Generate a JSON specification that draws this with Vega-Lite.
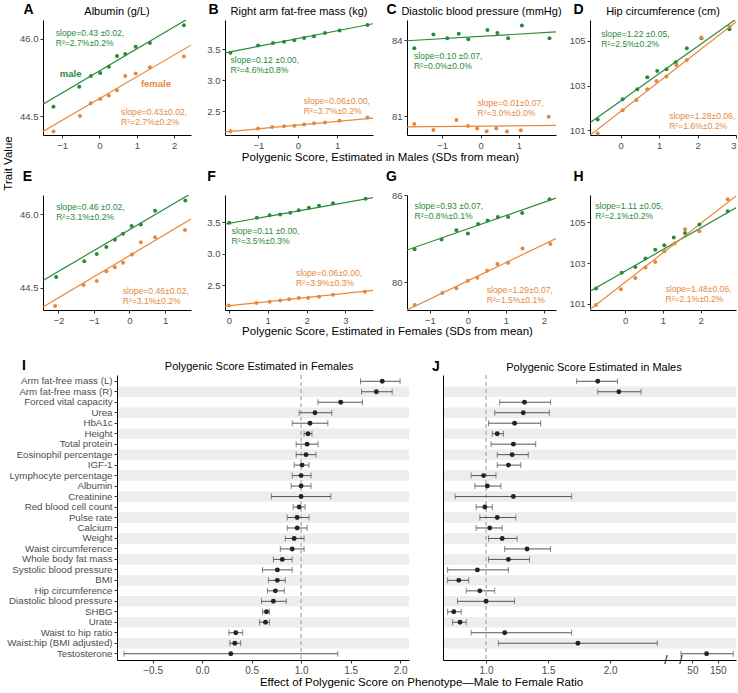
{
"$schema":"https://vega.github.io/schema/vega-lite/v6.json",
"padding":{"left":1,"top":2,"right":0,"bottom":0},
"background":"white",
"config":{"font":"Liberation Sans","view":{"stroke":null},
"axis":{"grid":false,"domainColor":"#000","domainWidth":1,"tickColor":"#333","tickSize":3,"labelColor":"#4d4d4d","labelFontSize":9.5,"labelPadding":2,"titleFontWeight":"normal","titleColor":"#000"},
"title":{"fontSize":11,"fontWeight":"normal","offset":-15,"color":"#000","frame":"group"}},
"datasets":{
"scatter":[
{"p":"A","sex":"male","x":-1.23,"y":44.68},{"p":"A","sex":"male","x":-0.54,"y":45.07},{"p":"A","sex":"male","x":-0.23,"y":45.28},{"p":"A","sex":"male","x":0.02,"y":45.34},{"p":"A","sex":"male","x":0.25,"y":45.46},{"p":"A","sex":"male","x":0.47,"y":45.67},{"p":"A","sex":"male","x":0.69,"y":45.71},{"p":"A","sex":"male","x":0.97,"y":45.85},{"p":"A","sex":"male","x":1.35,"y":45.92},{"p":"A","sex":"male","x":2.26,"y":46.27},
{"p":"A","sex":"female","x":-1.23,"y":44.2},{"p":"A","sex":"female","x":-0.52,"y":44.5},{"p":"A","sex":"female","x":-0.23,"y":44.75},{"p":"A","sex":"female","x":0.02,"y":44.83},{"p":"A","sex":"female","x":0.25,"y":44.9},{"p":"A","sex":"female","x":0.47,"y":45.0},{"p":"A","sex":"female","x":0.69,"y":45.28},{"p":"A","sex":"female","x":0.97,"y":45.33},{"p":"A","sex":"female","x":1.35,"y":45.45},{"p":"A","sex":"female","x":2.26,"y":45.66},
{"p":"B","sex":"male","x":-1.71,"y":3.445},{"p":"B","sex":"male","x":-1.01,"y":3.56},{"p":"B","sex":"male","x":-0.63,"y":3.6},{"p":"B","sex":"male","x":-0.35,"y":3.62},{"p":"B","sex":"male","x":-0.09,"y":3.645},{"p":"B","sex":"male","x":0.16,"y":3.68},{"p":"B","sex":"male","x":0.41,"y":3.71},{"p":"B","sex":"male","x":0.69,"y":3.76},{"p":"B","sex":"male","x":1.06,"y":3.8},{"p":"B","sex":"male","x":1.77,"y":3.89},
{"p":"B","sex":"female","x":-1.71,"y":2.18},{"p":"B","sex":"female","x":-1.01,"y":2.225},{"p":"B","sex":"female","x":-0.65,"y":2.25},{"p":"B","sex":"female","x":-0.35,"y":2.26},{"p":"B","sex":"female","x":-0.09,"y":2.27},{"p":"B","sex":"female","x":0.16,"y":2.29},{"p":"B","sex":"female","x":0.41,"y":2.31},{"p":"B","sex":"female","x":0.69,"y":2.32},{"p":"B","sex":"female","x":1.06,"y":2.35},{"p":"B","sex":"female","x":1.77,"y":2.4},
{"p":"C","sex":"male","x":-1.73,"y":83.67},{"p":"C","sex":"male","x":-1.23,"y":84.22},{"p":"C","sex":"male","x":-0.87,"y":84.07},{"p":"C","sex":"male","x":-0.57,"y":84.25},{"p":"C","sex":"male","x":-0.32,"y":84.03},{"p":"C","sex":"male","x":0.18,"y":84.4},{"p":"C","sex":"male","x":0.44,"y":84.28},{"p":"C","sex":"male","x":0.72,"y":84.07},{"p":"C","sex":"male","x":1.08,"y":84.57},{"p":"C","sex":"male","x":1.8,"y":84.07},
{"p":"C","sex":"female","x":-1.73,"y":80.68},{"p":"C","sex":"female","x":-1.23,"y":80.45},{"p":"C","sex":"female","x":-0.63,"y":80.84},{"p":"C","sex":"female","x":-0.33,"y":80.61},{"p":"C","sex":"female","x":-0.09,"y":80.51},{"p":"C","sex":"female","x":0.16,"y":80.4},{"p":"C","sex":"female","x":0.41,"y":80.51},{"p":"C","sex":"female","x":0.69,"y":80.39},{"p":"C","sex":"female","x":1.05,"y":80.44},{"p":"C","sex":"female","x":1.78,"y":80.97},
{"p":"D","sex":"male","x":-0.6,"y":101.48},{"p":"D","sex":"male","x":0.05,"y":102.38},{"p":"D","sex":"male","x":0.43,"y":102.83},{"p":"D","sex":"male","x":0.69,"y":103.37},{"p":"D","sex":"male","x":0.95,"y":103.65},{"p":"D","sex":"male","x":1.19,"y":103.73},{"p":"D","sex":"male","x":1.43,"y":104.04},{"p":"D","sex":"male","x":1.72,"y":104.67},{"p":"D","sex":"male","x":2.1,"y":105.12},{"p":"D","sex":"male","x":2.83,"y":105.53},
{"p":"D","sex":"female","x":-0.6,"y":100.85},{"p":"D","sex":"female","x":0.05,"y":101.89},{"p":"D","sex":"female","x":0.41,"y":102.35},{"p":"D","sex":"female","x":0.69,"y":102.83},{"p":"D","sex":"female","x":0.93,"y":103.2},{"p":"D","sex":"female","x":1.19,"y":103.4},{"p":"D","sex":"female","x":1.45,"y":103.92},{"p":"D","sex":"female","x":1.72,"y":104.15},{"p":"D","sex":"female","x":2.1,"y":105.15},{"p":"D","sex":"female","x":2.83,"y":105.64},
{"p":"E","sex":"male","x":-2.06,"y":44.72},{"p":"E","sex":"male","x":-1.27,"y":45.04},{"p":"E","sex":"male","x":-0.92,"y":45.19},{"p":"E","sex":"male","x":-0.65,"y":45.33},{"p":"E","sex":"male","x":-0.41,"y":45.48},{"p":"E","sex":"male","x":-0.18,"y":45.6},{"p":"E","sex":"male","x":0.06,"y":45.76},{"p":"E","sex":"male","x":0.32,"y":45.79},{"p":"E","sex":"male","x":0.72,"y":46.07},{"p":"E","sex":"male","x":1.57,"y":46.28},
{"p":"E","sex":"female","x":-2.09,"y":44.13},{"p":"E","sex":"female","x":-1.29,"y":44.56},{"p":"E","sex":"female","x":-0.92,"y":44.64},{"p":"E","sex":"female","x":-0.65,"y":44.84},{"p":"E","sex":"female","x":-0.41,"y":44.92},{"p":"E","sex":"female","x":-0.18,"y":45.01},{"p":"E","sex":"female","x":0.07,"y":45.18},{"p":"E","sex":"female","x":0.32,"y":45.43},{"p":"E","sex":"female","x":0.72,"y":45.53},{"p":"E","sex":"female","x":1.56,"y":45.68},
{"p":"F","sex":"male","x":0.01,"y":3.49},{"p":"F","sex":"male","x":0.72,"y":3.57},{"p":"F","sex":"male","x":1.05,"y":3.61},{"p":"F","sex":"male","x":1.32,"y":3.62},{"p":"F","sex":"male","x":1.58,"y":3.65},{"p":"F","sex":"male","x":1.8,"y":3.69},{"p":"F","sex":"male","x":2.06,"y":3.73},{"p":"F","sex":"male","x":2.32,"y":3.76},{"p":"F","sex":"male","x":2.68,"y":3.8},{"p":"F","sex":"male","x":3.52,"y":3.87},
{"p":"F","sex":"female","x":0.0,"y":2.18},{"p":"F","sex":"female","x":0.71,"y":2.22},{"p":"F","sex":"female","x":1.05,"y":2.24},{"p":"F","sex":"female","x":1.32,"y":2.26},{"p":"F","sex":"female","x":1.55,"y":2.28},{"p":"F","sex":"female","x":1.8,"y":2.3},{"p":"F","sex":"female","x":2.04,"y":2.3},{"p":"F","sex":"female","x":2.32,"y":2.32},{"p":"F","sex":"female","x":2.68,"y":2.35},{"p":"F","sex":"female","x":3.5,"y":2.4},
{"p":"G","sex":"male","x":-1.4,"y":82.29},{"p":"G","sex":"male","x":-0.69,"y":82.95},{"p":"G","sex":"male","x":-0.3,"y":83.6},{"p":"G","sex":"male","x":0.0,"y":83.36},{"p":"G","sex":"male","x":0.27,"y":84.03},{"p":"G","sex":"male","x":0.52,"y":84.26},{"p":"G","sex":"male","x":0.79,"y":84.51},{"p":"G","sex":"male","x":1.06,"y":84.51},{"p":"G","sex":"male","x":1.43,"y":84.78},{"p":"G","sex":"male","x":2.15,"y":85.73},
{"p":"G","sex":"female","x":-1.4,"y":78.45},{"p":"G","sex":"female","x":-0.67,"y":79.27},{"p":"G","sex":"female","x":-0.3,"y":79.59},{"p":"G","sex":"female","x":0.0,"y":80.12},{"p":"G","sex":"female","x":0.25,"y":80.32},{"p":"G","sex":"female","x":0.51,"y":80.8},{"p":"G","sex":"female","x":0.78,"y":81.26},{"p":"G","sex":"female","x":1.06,"y":81.35},{"p":"G","sex":"female","x":1.44,"y":82.34},{"p":"G","sex":"female","x":2.17,"y":82.64},
{"p":"H","sex":"male","x":-0.77,"y":101.75},{"p":"H","sex":"male","x":-0.09,"y":102.53},{"p":"H","sex":"male","x":0.27,"y":102.81},{"p":"H","sex":"male","x":0.54,"y":103.22},{"p":"H","sex":"male","x":0.8,"y":103.66},{"p":"H","sex":"male","x":1.04,"y":103.88},{"p":"H","sex":"male","x":1.29,"y":104.25},{"p":"H","sex":"male","x":1.59,"y":104.48},{"p":"H","sex":"male","x":1.97,"y":104.89},{"p":"H","sex":"male","x":2.72,"y":105.54},
{"p":"H","sex":"female","x":-0.77,"y":100.94},{"p":"H","sex":"female","x":-0.11,"y":101.72},{"p":"H","sex":"female","x":0.27,"y":102.27},{"p":"H","sex":"female","x":0.54,"y":102.78},{"p":"H","sex":"female","x":0.8,"y":103.06},{"p":"H","sex":"female","x":1.04,"y":103.58},{"p":"H","sex":"female","x":1.31,"y":103.96},{"p":"H","sex":"female","x":1.59,"y":104.66},{"p":"H","sex":"female","x":1.97,"y":104.56},{"p":"H","sex":"female","x":2.72,"y":106.13}
],
"fits":[
{"p":"A","sex":"male","x":-1.51,"y":44.73,"x2":2.45,"y2":46.43},{"p":"A","sex":"female","x":-1.51,"y":44.2,"x2":2.45,"y2":45.88},
{"p":"B","sex":"male","x":-1.85,"y":3.44,"x2":1.91,"y2":3.91},{"p":"B","sex":"female","x":-1.85,"y":2.17,"x2":1.91,"y2":2.39},
{"p":"C","sex":"male","x":-1.92,"y":83.97,"x2":1.97,"y2":84.32},{"p":"C","sex":"female","x":-1.92,"y":80.57,"x2":1.97,"y2":80.63},
{"p":"D","sex":"male","x":-0.8,"y":101.33,"x2":3.0,"y2":105.98},{"p":"D","sex":"female","x":-0.8,"y":100.77,"x2":3.0,"y2":105.85},
{"p":"E","sex":"male","x":-2.43,"y":44.65,"x2":1.73,"y2":46.42},{"p":"E","sex":"female","x":-2.43,"y":44.11,"x2":1.73,"y2":45.9},
{"p":"F","sex":"male","x":-0.1,"y":3.47,"x2":3.71,"y2":3.89},{"p":"F","sex":"female","x":-0.1,"y":2.17,"x2":3.71,"y2":2.42},
{"p":"G","sex":"male","x":-1.6,"y":82.23,"x2":2.32,"y2":85.81},{"p":"G","sex":"female","x":-1.6,"y":78.1,"x2":2.32,"y2":83.02},
{"p":"H","sex":"male","x":-0.93,"y":101.62,"x2":2.94,"y2":105.71},{"p":"H","sex":"female","x":-0.93,"y":100.72,"x2":2.94,"y2":106.29}
],
"ratios":[
{"trait":"Arm fat-free mass (L)","pgs":"female","ratio":1.82,"lo":1.6,"hi":2.0},{"trait":"Arm fat-free mass (L)","pgs":"male","ratio":1.9,"lo":1.73,"hi":2.06},
{"trait":"Arm fat-free mass (R)","pgs":"female","ratio":1.76,"lo":1.61,"hi":1.92},{"trait":"Arm fat-free mass (R)","pgs":"male","ratio":2.07,"lo":1.9,"hi":2.25},
{"trait":"Forced vital capacity","pgs":"female","ratio":1.4,"lo":1.17,"hi":1.62},{"trait":"Forced vital capacity","pgs":"male","ratio":1.31,"lo":1.11,"hi":1.52},
{"trait":"Urea","pgs":"female","ratio":1.14,"lo":0.98,"hi":1.31},{"trait":"Urea","pgs":"male","ratio":1.3,"lo":1.07,"hi":1.51},
{"trait":"HbA1c","pgs":"female","ratio":1.09,"lo":0.91,"hi":1.27},{"trait":"HbA1c","pgs":"male","ratio":1.23,"lo":1.02,"hi":1.44},
{"trait":"Height","pgs":"female","ratio":1.07,"lo":1.03,"hi":1.11},{"trait":"Height","pgs":"male","ratio":1.09,"lo":1.05,"hi":1.14},
{"trait":"Total protein","pgs":"female","ratio":1.06,"lo":0.95,"hi":1.17},{"trait":"Total protein","pgs":"male","ratio":1.22,"lo":1.04,"hi":1.4},
{"trait":"Eosinophil percentage","pgs":"female","ratio":1.05,"lo":0.95,"hi":1.15},{"trait":"Eosinophil percentage","pgs":"male","ratio":1.21,"lo":1.09,"hi":1.34},
{"trait":"IGF-1","pgs":"female","ratio":1.01,"lo":0.93,"hi":1.08},{"trait":"IGF-1","pgs":"male","ratio":1.18,"lo":1.09,"hi":1.28},
{"trait":"Lymphocyte percentage","pgs":"female","ratio":1.0,"lo":0.91,"hi":1.1},{"trait":"Lymphocyte percentage","pgs":"male","ratio":0.98,"lo":0.88,"hi":1.08},
{"trait":"Albumin","pgs":"female","ratio":1.0,"lo":0.9,"hi":1.1},{"trait":"Albumin","pgs":"male","ratio":1.01,"lo":0.91,"hi":1.12},
{"trait":"Creatinine","pgs":"female","ratio":1.0,"lo":0.7,"hi":1.3},{"trait":"Creatinine","pgs":"male","ratio":1.22,"lo":0.75,"hi":1.69},
{"trait":"Red blood cell count","pgs":"female","ratio":0.98,"lo":0.92,"hi":1.04},{"trait":"Red blood cell count","pgs":"male","ratio":0.99,"lo":0.92,"hi":1.05},
{"trait":"Pulse rate","pgs":"female","ratio":0.96,"lo":0.86,"hi":1.08},{"trait":"Pulse rate","pgs":"male","ratio":1.09,"lo":0.95,"hi":1.24},
{"trait":"Calcium","pgs":"female","ratio":0.96,"lo":0.86,"hi":1.06},{"trait":"Calcium","pgs":"male","ratio":1.03,"lo":0.92,"hi":1.13},
{"trait":"Weight","pgs":"female","ratio":0.93,"lo":0.84,"hi":1.03},{"trait":"Weight","pgs":"male","ratio":1.13,"lo":1.02,"hi":1.25},
{"trait":"Waist circumference","pgs":"female","ratio":0.91,"lo":0.79,"hi":1.03},{"trait":"Waist circumference","pgs":"male","ratio":1.33,"lo":1.15,"hi":1.52},
{"trait":"Whole body fat mass","pgs":"female","ratio":0.81,"lo":0.72,"hi":0.91},{"trait":"Whole body fat mass","pgs":"male","ratio":1.18,"lo":1.02,"hi":1.35},
{"trait":"Systolic blood pressure","pgs":"female","ratio":0.76,"lo":0.61,"hi":0.91},{"trait":"Systolic blood pressure","pgs":"male","ratio":0.93,"lo":0.69,"hi":1.18},
{"trait":"BMI","pgs":"female","ratio":0.76,"lo":0.67,"hi":0.84},{"trait":"BMI","pgs":"male","ratio":0.78,"lo":0.69,"hi":0.86},
{"trait":"Hip circumference","pgs":"female","ratio":0.74,"lo":0.66,"hi":0.83},{"trait":"Hip circumference","pgs":"male","ratio":0.95,"lo":0.84,"hi":1.07},
{"trait":"Diastolic blood pressure","pgs":"female","ratio":0.72,"lo":0.6,"hi":0.85},{"trait":"Diastolic blood pressure","pgs":"male","ratio":1.0,"lo":0.77,"hi":1.23},
{"trait":"SHBG","pgs":"female","ratio":0.65,"lo":0.61,"hi":0.68},{"trait":"SHBG","pgs":"male","ratio":0.74,"lo":0.69,"hi":0.8},
{"trait":"Urate","pgs":"female","ratio":0.64,"lo":0.58,"hi":0.68},{"trait":"Urate","pgs":"male","ratio":0.79,"lo":0.73,"hi":0.84},
{"trait":"Waist to hip ratio","pgs":"female","ratio":0.34,"lo":0.27,"hi":0.41},{"trait":"Waist to hip ratio","pgs":"male","ratio":1.15,"lo":0.88,"hi":1.69},
{"trait":"Waist:hip (BMI adjusted)","pgs":"female","ratio":0.33,"lo":0.28,"hi":0.39},{"trait":"Waist:hip (BMI adjusted)","pgs":"male","ratio":1.74,"lo":1.1,"hi":2.38},
{"trait":"Testosterone","pgs":"female","ratio":0.29,"lo":-0.79,"hi":1.37},{"trait":"Testosterone","pgs":"male","ratio":106,"lo":5,"hi":211}
],
"bands":[{"trait":"Arm fat-free mass (R)"},{"trait":"Urea"},{"trait":"Height"},{"trait":"Eosinophil percentage"},{"trait":"Lymphocyte percentage"},{"trait":"Creatinine"},{"trait":"Pulse rate"},{"trait":"Weight"},{"trait":"Whole body fat mass"},{"trait":"BMI"},{"trait":"Diastolic blood pressure"},{"trait":"Urate"},{"trait":"Waist:hip (BMI adjusted)"}]
},
"spacing":21,
"vconcat":[
{"columns":4,"spacing":{"row":60,"column":34},"bounds":"flush","align":"each",
"concat":[
{"width":148,"height":115,"title":{"text":"Albumin (g/L)"},
"layer":[
{"data":{"name":"fits"},"transform":[{"filter":"datum.p==='A'"}],"mark":{"type":"rule","clip":true,"strokeWidth":1.2},"encoding":{
"x":{"field":"x","type":"quantitative","scale":{"domain":[-1.51,2.45],"nice":false,"zero":false},"axis":{"values":[-1,0,1,2],"format":"d","title":"Trait Value","titleX":-35,"titleY":28,"titleAngle":270,"titleAlign":"center","titleBaseline":"middle","titleFontSize":11.5}},
"y":{"field":"y","type":"quantitative","scale":{"domain":[44.13,46.37],"nice":false,"zero":false},"axis":{"values":[44.5,45,45.5,46],"format":".1f","title":"A","titleX":-15,"titleY":-11,"titleAngle":0,"titleAlign":"center","titleBaseline":"middle","titleFontSize":14,"titleFontWeight":"bold"}},
"x2":{"field":"x2"},"y2":{"field":"y2"},"color":{"field":"sex","type":"nominal","scale":{"domain":["male","female"],"range":["#2a8a3a","#e6883b"]},"legend":null}}},
{"data":{"name":"scatter"},"transform":[{"filter":"datum.p==='A'"}],"mark":{"type":"circle","size":16,"opacity":1},"encoding":{
"x":{"field":"x","type":"quantitative","axis":{"values":[-1,0,1,2],"format":"d","title":"Trait Value","titleX":-35,"titleY":28,"titleAngle":270,"titleAlign":"center","titleBaseline":"middle","titleFontSize":11.5}},
"y":{"field":"y","type":"quantitative","axis":{"values":[44.5,45,45.5,46],"format":".1f","title":"A","titleX":-15,"titleY":-11,"titleAngle":0,"titleAlign":"center","titleBaseline":"middle","titleFontSize":14,"titleFontWeight":"bold"}},
"color":{"field":"sex","type":"nominal","scale":{"domain":["male","female"],"range":["#2a8a3a","#e6883b"]},"legend":null}}},
{"data":{"values":[{}]},"mark":{"type":"text","text":["slope=0.43 ±0.02,","R²=2.7%±0.2%"],"align":"left","baseline":"top","fontSize":8.6,"lineHeight":10,"color":"#2a8a3a"},"encoding":{"x":{"datum":-1.17},"y":{"datum":46.2}}},
{"data":{"values":[{}]},"mark":{"type":"text","text":["slope=0.43±0.02,","R²=2.7%±0.2%"],"align":"left","baseline":"top","fontSize":8.6,"lineHeight":10,"color":"#e6883b"},"encoding":{"x":{"datum":0.58},"y":{"datum":44.65}}},
{"data":{"values":[{}]},"mark":{"type":"text","text":"male","align":"left","baseline":"middle","fontSize":9.5,"fontWeight":"bold","color":"#2a8a3a"},"encoding":{"x":{"datum":-1.06},"y":{"datum":45.32}}},
{"data":{"values":[{}]},"mark":{"type":"text","text":"female","align":"left","baseline":"middle","fontSize":9.5,"fontWeight":"bold","color":"#e6883b"},"encoding":{"x":{"datum":1.11},"y":{"datum":45.12}}}
]},
{"width":148,"height":115,"title":{"text":"Right arm fat-free mass (kg)"},
"layer":[
{"data":{"name":"fits"},"transform":[{"filter":"datum.p==='B'"}],"mark":{"type":"rule","clip":true,"strokeWidth":1.2},"encoding":{
"x":{"field":"x","type":"quantitative","scale":{"domain":[-1.85,1.91],"nice":false,"zero":false},"axis":{"values":[-1,0,1],"format":"d","title":"Polygenic Score, Estimated in Males (SDs from mean)","titleX":155,"titleY":22,"titleAlign":"center","titleBaseline":"middle","titleFontSize":11.5}},
"y":{"field":"y","type":"quantitative","scale":{"domain":[2.12,3.97],"nice":false,"zero":false},"axis":{"values":[2.5,3,3.5],"format":".1f","title":"B","titleX":-12,"titleY":-11,"titleAngle":0,"titleAlign":"center","titleBaseline":"middle","titleFontSize":14,"titleFontWeight":"bold"}},
"x2":{"field":"x2"},"y2":{"field":"y2"},"color":{"field":"sex","type":"nominal","scale":{"domain":["male","female"],"range":["#2a8a3a","#e6883b"]},"legend":null}}},
{"data":{"name":"scatter"},"transform":[{"filter":"datum.p==='B'"}],"mark":{"type":"circle","size":16,"opacity":1},"encoding":{
"x":{"field":"x","type":"quantitative","axis":{"values":[-1,0,1],"format":"d","title":"Polygenic Score, Estimated in Males (SDs from mean)","titleX":155,"titleY":22,"titleAlign":"center","titleBaseline":"middle","titleFontSize":11.5}},
"y":{"field":"y","type":"quantitative","axis":{"values":[2.5,3,3.5],"format":".1f","title":"B","titleX":-12,"titleY":-11,"titleAngle":0,"titleAlign":"center","titleBaseline":"middle","titleFontSize":14,"titleFontWeight":"bold"}},
"color":{"field":"sex","type":"nominal","scale":{"domain":["male","female"],"range":["#2a8a3a","#e6883b"]},"legend":null}}},
{"data":{"values":[{}]},"mark":{"type":"text","text":["slope=0.12 ±0.00,","R²=4.6%±0.8%"],"align":"left","baseline":"top","fontSize":8.6,"lineHeight":10,"color":"#2a8a3a"},"encoding":{"x":{"datum":-1.71},"y":{"datum":3.384}}},
{"data":{"values":[{}]},"mark":{"type":"text","text":["slope=0.06±0.00,","R²=3.7%±0.2%"],"align":"left","baseline":"top","fontSize":8.6,"lineHeight":10,"color":"#e6883b"},"encoding":{"x":{"datum":0.15},"y":{"datum":2.73}}}
]},
{"width":149,"height":115,"title":{"text":"Diastolic blood pressure (mmHg)"},
"layer":[
{"data":{"name":"fits"},"transform":[{"filter":"datum.p==='C'"}],"mark":{"type":"rule","clip":true,"strokeWidth":1.2},"encoding":{
"x":{"field":"x","type":"quantitative","scale":{"domain":[-1.92,1.97],"nice":false,"zero":false},"axis":{"values":[-1,0,1],"format":"d","title":null}},
"y":{"field":"y","type":"quantitative","scale":{"domain":[80.25,84.79],"nice":false,"zero":false},"axis":{"values":[81,82,83,84],"format":"d","title":"C","titleX":-16,"titleY":-11,"titleAngle":0,"titleAlign":"center","titleBaseline":"middle","titleFontSize":14,"titleFontWeight":"bold"}},
"x2":{"field":"x2"},"y2":{"field":"y2"},"color":{"field":"sex","type":"nominal","scale":{"domain":["male","female"],"range":["#2a8a3a","#e6883b"]},"legend":null}}},
{"data":{"name":"scatter"},"transform":[{"filter":"datum.p==='C'"}],"mark":{"type":"circle","size":16,"opacity":1},"encoding":{
"x":{"field":"x","type":"quantitative","axis":{"values":[-1,0,1],"format":"d","title":null}},
"y":{"field":"y","type":"quantitative","axis":{"values":[81,82,83,84],"format":"d","title":"C","titleX":-16,"titleY":-11,"titleAngle":0,"titleAlign":"center","titleBaseline":"middle","titleFontSize":14,"titleFontWeight":"bold"}},
"color":{"field":"sex","type":"nominal","scale":{"domain":["male","female"],"range":["#2a8a3a","#e6883b"]},"legend":null}}},
{"data":{"values":[{}]},"mark":{"type":"text","text":["slope=0.10 ±0.07,","R²=0.0%±0.0%"],"align":"left","baseline":"top","fontSize":8.6,"lineHeight":10,"color":"#2a8a3a"},"encoding":{"x":{"datum":-1.74},"y":{"datum":83.53}}},
{"data":{"values":[{}]},"mark":{"type":"text","text":["slope=0.01±0.07,","R²=3.0%±0.0%"],"align":"left","baseline":"top","fontSize":8.6,"lineHeight":10,"color":"#e6883b"},"encoding":{"x":{"datum":-0.08},"y":{"datum":81.69}}}
]},
{"width":146,"height":115,"title":{"text":"Hip circumference (cm)"},
"layer":[
{"data":{"name":"fits"},"transform":[{"filter":"datum.p==='D'"}],"mark":{"type":"rule","clip":true,"strokeWidth":1.2},"encoding":{
"x":{"field":"x","type":"quantitative","scale":{"domain":[-0.8,3.0],"nice":false,"zero":false},"axis":{"values":[0,1,2,3],"format":"d","title":null}},
"y":{"field":"y","type":"quantitative","scale":{"domain":[100.78,105.94],"nice":false,"zero":false},"axis":{"values":[101,102,103,104,105],"format":"d","title":"D","titleX":-12,"titleY":-11,"titleAngle":0,"titleAlign":"center","titleBaseline":"middle","titleFontSize":14,"titleFontWeight":"bold"}},
"x2":{"field":"x2"},"y2":{"field":"y2"},"color":{"field":"sex","type":"nominal","scale":{"domain":["male","female"],"range":["#2a8a3a","#e6883b"]},"legend":null}}},
{"data":{"name":"scatter"},"transform":[{"filter":"datum.p==='D'"}],"mark":{"type":"circle","size":16,"opacity":1},"encoding":{
"x":{"field":"x","type":"quantitative","axis":{"values":[0,1,2,3],"format":"d","title":null}},
"y":{"field":"y","type":"quantitative","axis":{"values":[101,102,103,104,105],"format":"d","title":"D","titleX":-12,"titleY":-11,"titleAngle":0,"titleAlign":"center","titleBaseline":"middle","titleFontSize":14,"titleFontWeight":"bold"}},
"color":{"field":"sex","type":"nominal","scale":{"domain":["male","female"],"range":["#2a8a3a","#e6883b"]},"legend":null}}},
{"data":{"values":[{}]},"mark":{"type":"text","text":["slope=1.22 ±0.05,","R²=2.5%±0.2%"],"align":"left","baseline":"top","fontSize":8.6,"lineHeight":10,"color":"#2a8a3a"},"encoding":{"x":{"datum":-0.51},"y":{"datum":105.5}}},
{"data":{"values":[{}]},"mark":{"type":"text","text":["slope=1.28±0.06,","R²=1.6%±0.2%"],"align":"left","baseline":"top","fontSize":8.6,"lineHeight":10,"color":"#e6883b"},"encoding":{"x":{"datum":1.26},"y":{"datum":101.83}}}
]},
{"width":148,"height":115,
"layer":[
{"data":{"name":"fits"},"transform":[{"filter":"datum.p==='E'"}],"mark":{"type":"rule","clip":true,"strokeWidth":1.2},"encoding":{
"x":{"field":"x","type":"quantitative","scale":{"domain":[-2.43,1.73],"nice":false,"zero":false},"axis":{"values":[-2,-1,0,1],"format":"d","title":null}},
"y":{"field":"y","type":"quantitative","scale":{"domain":[44.05,46.39],"nice":false,"zero":false},"axis":{"values":[44.5,45,45.5,46],"format":".1f","title":"E","titleX":-16,"titleY":-19,"titleAngle":0,"titleAlign":"center","titleBaseline":"middle","titleFontSize":14,"titleFontWeight":"bold"}},
"x2":{"field":"x2"},"y2":{"field":"y2"},"color":{"field":"sex","type":"nominal","scale":{"domain":["male","female"],"range":["#2a8a3a","#e6883b"]},"legend":null}}},
{"data":{"name":"scatter"},"transform":[{"filter":"datum.p==='E'"}],"mark":{"type":"circle","size":16,"opacity":1},"encoding":{
"x":{"field":"x","type":"quantitative","axis":{"values":[-2,-1,0,1],"format":"d","title":null}},
"y":{"field":"y","type":"quantitative","axis":{"values":[44.5,45,45.5,46],"format":".1f","title":"E","titleX":-16,"titleY":-19,"titleAngle":0,"titleAlign":"center","titleBaseline":"middle","titleFontSize":14,"titleFontWeight":"bold"}},
"color":{"field":"sex","type":"nominal","scale":{"domain":["male","female"],"range":["#2a8a3a","#e6883b"]},"legend":null}}},
{"data":{"values":[{}]},"mark":{"type":"text","text":["slope=0.46 ±0.02,","R²=3.1%±0.2%"],"align":"left","baseline":"top","fontSize":8.6,"lineHeight":10,"color":"#2a8a3a"},"encoding":{"x":{"datum":-2.06},"y":{"datum":46.23}}},
{"data":{"values":[{}]},"mark":{"type":"text","text":["slope=0.46±0.02,","R²=3.1%±0.2%"],"align":"left","baseline":"top","fontSize":8.6,"lineHeight":10,"color":"#e6883b"},"encoding":{"x":{"datum":-0.19},"y":{"datum":44.52}}}
]},
{"width":148,"height":115,
"layer":[
{"data":{"name":"fits"},"transform":[{"filter":"datum.p==='F'"}],"mark":{"type":"rule","clip":true,"strokeWidth":1.2},"encoding":{
"x":{"field":"x","type":"quantitative","scale":{"domain":[-0.1,3.71],"nice":false,"zero":false},"axis":{"values":[0,1,2,3],"format":"d","title":"Polygenic Score, Estimated in Females (SDs from mean)","titleX":162,"titleY":21,"titleAlign":"center","titleBaseline":"middle","titleFontSize":11.5}},
"y":{"field":"y","type":"quantitative","scale":{"domain":[2.11,3.93],"nice":false,"zero":false},"axis":{"values":[2.5,3,3.5],"format":".1f","title":"F","titleX":-14,"titleY":-19,"titleAngle":0,"titleAlign":"center","titleBaseline":"middle","titleFontSize":14,"titleFontWeight":"bold"}},
"x2":{"field":"x2"},"y2":{"field":"y2"},"color":{"field":"sex","type":"nominal","scale":{"domain":["male","female"],"range":["#2a8a3a","#e6883b"]},"legend":null}}},
{"data":{"name":"scatter"},"transform":[{"filter":"datum.p==='F'"}],"mark":{"type":"circle","size":16,"opacity":1},"encoding":{
"x":{"field":"x","type":"quantitative","axis":{"values":[0,1,2,3],"format":"d","title":"Polygenic Score, Estimated in Females (SDs from mean)","titleX":162,"titleY":21,"titleAlign":"center","titleBaseline":"middle","titleFontSize":11.5}},
"y":{"field":"y","type":"quantitative","axis":{"values":[2.5,3,3.5],"format":".1f","title":"F","titleX":-14,"titleY":-19,"titleAngle":0,"titleAlign":"center","titleBaseline":"middle","titleFontSize":14,"titleFontWeight":"bold"}},
"color":{"field":"sex","type":"nominal","scale":{"domain":["male","female"],"range":["#2a8a3a","#e6883b"]},"legend":null}}},
{"data":{"values":[{}]},"mark":{"type":"text","text":["slope=0.11 ±0.00,","R²=3.5%±0.3%"],"align":"left","baseline":"top","fontSize":8.6,"lineHeight":10,"color":"#2a8a3a"},"encoding":{"x":{"datum":0.07},"y":{"datum":3.43}}},
{"data":{"values":[{}]},"mark":{"type":"text","text":["slope=0.06±0.00,","R²=3.9%±0.3%"],"align":"left","baseline":"top","fontSize":8.6,"lineHeight":10,"color":"#e6883b"},"encoding":{"x":{"datum":1.73},"y":{"datum":2.755}}}
]},
{"width":149,"height":115,
"layer":[
{"data":{"name":"fits"},"transform":[{"filter":"datum.p==='G'"}],"mark":{"type":"rule","clip":true,"strokeWidth":1.2},"encoding":{
"x":{"field":"x","type":"quantitative","scale":{"domain":[-1.6,2.32],"nice":false,"zero":false},"axis":{"values":[-1,0,1,2],"format":"d","title":null}},
"y":{"field":"y","type":"quantitative","scale":{"domain":[78.1,86.02],"nice":false,"zero":false},"axis":{"values":[80,82,84,86],"format":"d","title":"G","titleX":-16,"titleY":-19,"titleAngle":0,"titleAlign":"center","titleBaseline":"middle","titleFontSize":14,"titleFontWeight":"bold"}},
"x2":{"field":"x2"},"y2":{"field":"y2"},"color":{"field":"sex","type":"nominal","scale":{"domain":["male","female"],"range":["#2a8a3a","#e6883b"]},"legend":null}}},
{"data":{"name":"scatter"},"transform":[{"filter":"datum.p==='G'"}],"mark":{"type":"circle","size":16,"opacity":1},"encoding":{
"x":{"field":"x","type":"quantitative","axis":{"values":[-1,0,1,2],"format":"d","title":null}},
"y":{"field":"y","type":"quantitative","axis":{"values":[80,82,84,86],"format":"d","title":"G","titleX":-16,"titleY":-19,"titleAngle":0,"titleAlign":"center","titleBaseline":"middle","titleFontSize":14,"titleFontWeight":"bold"}},
"color":{"field":"sex","type":"nominal","scale":{"domain":["male","female"],"range":["#2a8a3a","#e6883b"]},"legend":null}}},
{"data":{"values":[{}]},"mark":{"type":"text","text":["slope=0.93 ±0.07,","R²=0.8%±0.1%"],"align":"left","baseline":"top","fontSize":8.6,"lineHeight":10,"color":"#2a8a3a"},"encoding":{"x":{"datum":-1.4},"y":{"datum":85.55}}},
{"data":{"values":[{}]},"mark":{"type":"text","text":["slope=1.29±0.07,","R²=1.5%±0.1%"],"align":"left","baseline":"top","fontSize":8.6,"lineHeight":10,"color":"#e6883b"},"encoding":{"x":{"datum":0.5},"y":{"datum":79.72}}}
]},
{"width":146,"height":115,
"layer":[
{"data":{"name":"fits"},"transform":[{"filter":"datum.p==='H'"}],"mark":{"type":"rule","clip":true,"strokeWidth":1.2},"encoding":{
"x":{"field":"x","type":"quantitative","scale":{"domain":[-0.93,2.94],"nice":false,"zero":false},"axis":{"values":[0,1,2],"format":"d","title":null}},
"y":{"field":"y","type":"quantitative","scale":{"domain":[100.7,106.34],"nice":false,"zero":false},"axis":{"values":[101,102,103,104,105,106],"format":"d","title":"H","titleX":-12,"titleY":-19,"titleAngle":0,"titleAlign":"center","titleBaseline":"middle","titleFontSize":14,"titleFontWeight":"bold"}},
"x2":{"field":"x2"},"y2":{"field":"y2"},"color":{"field":"sex","type":"nominal","scale":{"domain":["male","female"],"range":["#2a8a3a","#e6883b"]},"legend":null}}},
{"data":{"name":"scatter"},"transform":[{"filter":"datum.p==='H'"}],"mark":{"type":"circle","size":16,"opacity":1},"encoding":{
"x":{"field":"x","type":"quantitative","axis":{"values":[0,1,2],"format":"d","title":null}},
"y":{"field":"y","type":"quantitative","axis":{"values":[101,102,103,104,105,106],"format":"d","title":"H","titleX":-12,"titleY":-19,"titleAngle":0,"titleAlign":"center","titleBaseline":"middle","titleFontSize":14,"titleFontWeight":"bold"}},
"color":{"field":"sex","type":"nominal","scale":{"domain":["male","female"],"range":["#2a8a3a","#e6883b"]},"legend":null}}},
{"data":{"values":[{}]},"mark":{"type":"text","text":["slope=1.11 ±0.05,","R²=2.1%±0.2%"],"align":"left","baseline":"top","fontSize":8.6,"lineHeight":10,"color":"#2a8a3a"},"encoding":{"x":{"datum":-0.79},"y":{"datum":105.98}}},
{"data":{"values":[{}]},"mark":{"type":"text","text":["slope=1.48±0.06,","R²=2.1%±0.2%"],"align":"left","baseline":"top","fontSize":8.6,"lineHeight":10,"color":"#e6883b"},"encoding":{"x":{"datum":1.07},"y":{"datum":101.92}}}
]}
]},
{"hconcat":[
{"width":40,"height":285,"data":{"values":[]},"mark":"point"},
{"width":292,"height":285,"title":{"text":"Polygenic Score Estimated in Females","dx":-4,"offset":-13.5},
"layer":[
{"data":{"name":"bands"},"mark":{"type":"rect","color":"#ededed"},"encoding":{"x":{"datum":-0.86},"x2":{"datum":2.09},"y":{"field":"trait","type":"nominal"}}},
{"data":{"values":[{}]},"mark":{"type":"rule","color":"#a6a6a6","strokeDash":[4,3],"strokeWidth":1.2},"encoding":{"x":{"datum":1}}},
{"data":{"name":"ratios"},"transform":[{"filter":"datum.pgs==='female'"}],"mark":{"type":"rule","color":"#555","strokeWidth":1},"encoding":{"x":{"field":"lo","type":"quantitative"},"x2":{"field":"hi"},"y":{"field":"trait","type":"nominal"}}},
{"data":{"name":"ratios"},"transform":[{"filter":"datum.pgs==='female'"}],"mark":{"type":"tick","color":"#555","size":6,"thickness":1},"encoding":{"x":{"field":"lo","type":"quantitative"},"y":{"field":"trait","type":"nominal"}}},
{"data":{"name":"ratios"},"transform":[{"filter":"datum.pgs==='female'"}],"mark":{"type":"tick","color":"#555","size":6,"thickness":1},"encoding":{"x":{"field":"hi","type":"quantitative"},"y":{"field":"trait","type":"nominal"}}},
{"data":{"name":"ratios"},"transform":[{"filter":"datum.pgs==='female'"}],"mark":{"type":"circle","color":"#222","size":24,"opacity":1},"encoding":{
"x":{"field":"ratio","type":"quantitative","scale":{"domain":[-0.86,2.09],"nice":false,"zero":false},"axis":{"values":[-0.5,0,0.5,1,1.5,2],"format":".1f","labelFontSize":10,"title":"Effect of Polygenic Score on Phenotype—Male to Female Ratio","titleX":304,"titleY":22,"titleAlign":"center","titleBaseline":"middle","titleFontSize":11.5}},
"y":{"field":"trait","type":"nominal","scale":{"domain":["Arm fat-free mass (L)","Arm fat-free mass (R)","Forced vital capacity","Urea","HbA1c","Height","Total protein","Eosinophil percentage","IGF-1","Lymphocyte percentage","Albumin","Creatinine","Red blood cell count","Pulse rate","Calcium","Weight","Waist circumference","Whole body fat mass","Systolic blood pressure","BMI","Hip circumference","Diastolic blood pressure","SHBG","Urate","Waist to hip ratio","Waist:hip (BMI adjusted)","Testosterone"],"paddingInner":0,"paddingOuter":0.1},"axis":{"labelFontSize":9.7,"labelLimit":300,"title":"I","titleX":-93.5,"titleY":-10,"titleAngle":0,"titleAlign":"center","titleBaseline":"middle","titleFontSize":14,"titleFontWeight":"bold"}}}}
]},
{"width":293,"height":285,"title":{"text":"Polygenic Score Estimated in Males","dx":4.5,"offset":-13.5},
"layer":[
{"data":{"name":"bands"},"mark":{"type":"rect","color":"#ededed"},"encoding":{"x":{"datum":0.653},"x2":{"datum":222},"y":{"field":"trait","type":"nominal"}}},
{"data":{"values":[{}]},"mark":{"type":"rule","color":"#a6a6a6","strokeDash":[4,3],"strokeWidth":1.2},"encoding":{"x":{"datum":1}}},
{"data":{"name":"ratios"},"transform":[{"filter":"datum.pgs==='male'"}],"mark":{"type":"rule","color":"#555","strokeWidth":1},"encoding":{"x":{"field":"lo","type":"quantitative"},"x2":{"field":"hi"},"y":{"field":"trait","type":"nominal"}}},
{"data":{"name":"ratios"},"transform":[{"filter":"datum.pgs==='male'"}],"mark":{"type":"tick","color":"#555","size":6,"thickness":1},"encoding":{"x":{"field":"lo","type":"quantitative"},"y":{"field":"trait","type":"nominal"}}},
{"data":{"name":"ratios"},"transform":[{"filter":"datum.pgs==='male'"}],"mark":{"type":"tick","color":"#555","size":6,"thickness":1},"encoding":{"x":{"field":"hi","type":"quantitative"},"y":{"field":"trait","type":"nominal"}}},
{"data":{"name":"ratios"},"transform":[{"filter":"datum.pgs==='male'"}],"mark":{"type":"circle","color":"#222","size":24,"opacity":1},"encoding":{
"x":{"field":"ratio","type":"quantitative","scale":{"domain":[0.653,2.45,5,222],"range":[0,223,238,293],"nice":false,"zero":false},"axis":{"values":[1,1.5,2,50,150],"labelExpr":"datum.value >= 10 ? format(datum.value, 'd') : format(datum.value, '.1f')","labelFontSize":10,"title":null}},
"y":{"field":"trait","type":"nominal","scale":{"domain":["Arm fat-free mass (L)","Arm fat-free mass (R)","Forced vital capacity","Urea","HbA1c","Height","Total protein","Eosinophil percentage","IGF-1","Lymphocyte percentage","Albumin","Creatinine","Red blood cell count","Pulse rate","Calcium","Weight","Waist circumference","Whole body fat mass","Systolic blood pressure","BMI","Hip circumference","Diastolic blood pressure","SHBG","Urate","Waist to hip ratio","Waist:hip (BMI adjusted)","Testosterone"],"paddingInner":0,"paddingOuter":0.1},"axis":{"labels":false,"ticks":false,"title":"J","titleX":-7.5,"titleY":-9,"titleAngle":0,"titleAlign":"center","titleBaseline":"middle","titleFontSize":14,"titleFontWeight":"bold"}}}},
{"data":{"values":[{}]},"mark":{"type":"text","text":"/","fontSize":12,"dy":6,"baseline":"middle","align":"center","color":"#000"},"encoding":{"x":{"datum":2.45},"y":{"datum":"Testosterone"}}},
{"data":{"values":[{}]},"mark":{"type":"text","text":"/","fontSize":12,"dy":6,"baseline":"middle","align":"center","color":"#000"},"encoding":{"x":{"datum":5},"y":{"datum":"Testosterone"}}}
]}
],"spacing":34,"bounds":"flush"}
]
}
